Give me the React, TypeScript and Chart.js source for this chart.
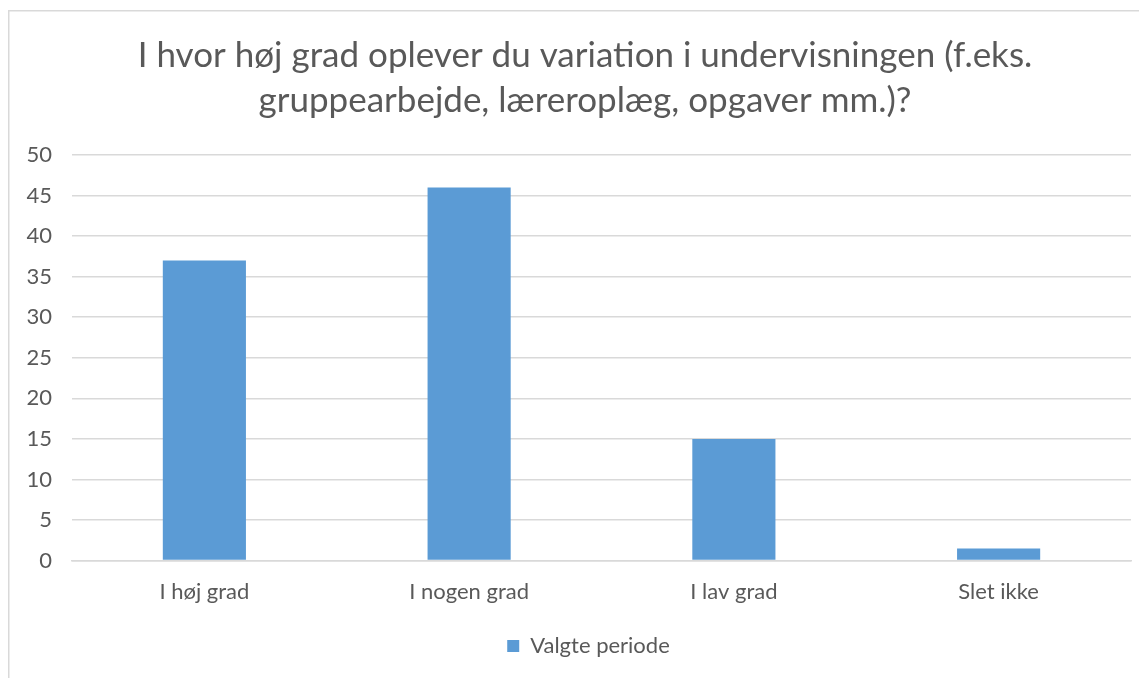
import React, { useEffect, useRef } from "react";
import { Chart, registerables } from "chart.js";

Chart.register(...registerables);

const titleLines = [
  "I hvor høj grad oplever du variation i undervisningen (f.eks.",
  "gruppearbejde, læreroplæg, opgaver mm.)?",
];
const categories = ["I høj grad", "I nogen grad", "I lav grad", "Slet ikke"];
const seriesName = "Valgte periode";
const seriesValues = [37, 46, 15, 1.5];
const yMin = 0;
const yMax = 50;
const yStep = 5;

const TEXT = "#595959";
const GRID = "#D9D9D9";
const BAR = "#5B9BD5";
const FONT = "Lato, 'Open Sans', sans-serif";

const borderPlugin = {
  id: "outerBorder",
  beforeDraw(chart: any) {
    const ctx = chart.ctx;
    ctx.save();
    ctx.strokeStyle = GRID;
    ctx.lineWidth = 1.5;
    ctx.beginPath();
    ctx.moveTo(0.75, chart.height);
    ctx.lineTo(0.75, 2.75);
    ctx.lineTo(chart.width, 2.75);
    ctx.stroke();
    ctx.restore();
  },
};

const titlePlugin = {
  id: "twoLineTitle",
  afterDraw(chart: any) {
    const ctx = chart.ctx;
    ctx.save();
    ctx.fillStyle = TEXT;
    ctx.font = `normal 35px ${FONT}`;
    ctx.textAlign = "center";
    ctx.textBaseline = "alphabetic";
    const cx = 577;
    titleLines.forEach((line, i) => {
      ctx.fillText(line, cx, 58.5 + i * 45);
    });
    ctx.restore();
  },
};

const legendShiftPlugin = {
  id: "legendShift",
  afterLayout(chart: any) {
    if (chart.legend) {
      chart.legend.left += 19;
      chart.legend.right += 19;
    }
  },
};

export default function App() {
  const ref = useRef<HTMLCanvasElement>(null);
  useEffect(() => {
    const chart = new Chart(ref.current!, {
      type: "bar",
      data: {
        labels: categories,
        datasets: [
          {
            label: seriesName,
            data: seriesValues,
            backgroundColor: BAR,
            borderWidth: 0,
            categoryPercentage: 1,
            barPercentage: 0.314,
          },
        ],
      },
      options: {
        animation: false,
        responsive: false,
        maintainAspectRatio: false,
        layout: { padding: { left: 0, right: 16, top: 147, bottom: 11 } },
        plugins: {
          tooltip: { enabled: false },
          title: { display: false },
          legend: {
            display: true,
            position: "bottom",
            labels: {
              color: TEXT,
              font: { family: FONT, size: 22 },
              boxWidth: 12,
              boxHeight: 12,
              padding: 12,
            },
          },
        },
        scales: {
          x: {
            grid: { display: false, drawTicks: false },
            border: { display: true, color: GRID, width: 1.5 },
            ticks: {
              color: TEXT,
              font: { family: FONT, size: 22 },
              padding: 18,
            },
          },
          y: {
            min: yMin,
            max: yMax,
            afterFit(scale: any) {
              scale.width = 64;
            },
            grid: { color: GRID, lineWidth: 1.5, drawTicks: false },
            border: { display: false },
            ticks: {
              stepSize: yStep,
              color: TEXT,
              font: { family: FONT, size: 22 },
              padding: 20,
            },
          },
        },
      },
      plugins: [borderPlugin, titlePlugin, legendShiftPlugin],
    });
    return () => chart.destroy();
  }, []);
  return (
    <canvas
      ref={ref}
      width={1139}
      height={670}
      style={{ display: "block", width: 1139, height: 670 }}
    />
  );
}
